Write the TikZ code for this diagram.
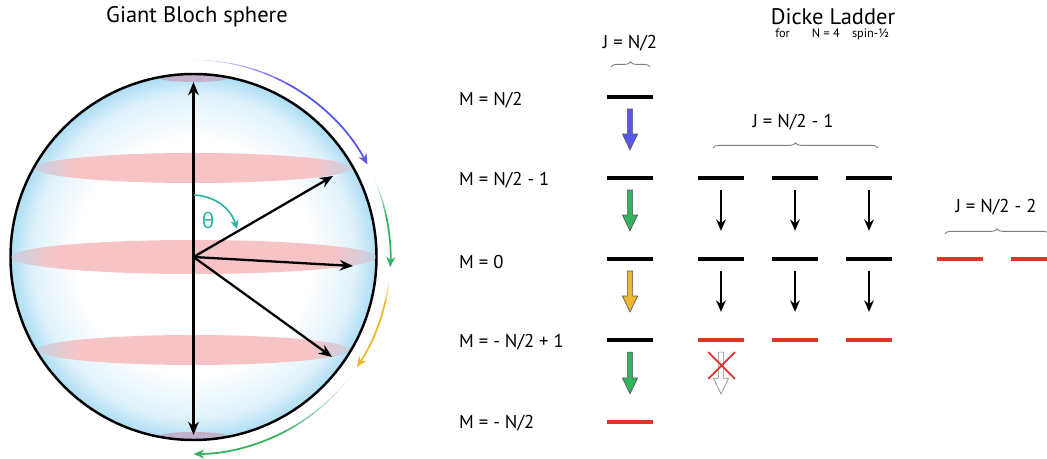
\documentclass[tikz,border=0pt]{standalone}
\usepackage{fontspec}
\setmainfont{PT Sans}
\newfontfamily\greekfont{Open Sans}
\usetikzlibrary{arrows.meta,calc,decorations.pathreplacing,shapes.misc}

\definecolor{rimblue}{RGB}{165,218,243}
\definecolor{bandpink}{RGB}{246,196,198}
\definecolor{capmauve}{RGB}{196,165,190}
\definecolor{arcblue}{RGB}{88,86,240}
\definecolor{arcgreen}{RGB}{52,178,96}
\definecolor{arcyellow}{RGB}{236,184,48}
\definecolor{thetateal}{RGB}{38,178,158}
\definecolor{lvlred}{RGB}{224,52,40}
\definecolor{bracegray}{RGB}{125,125,125}

% white core, blue rim
\pgfdeclareradialshading{sphereshade}{\pgfpoint{0bp}{0bp}}{color(0bp)=(white); color(16bp)=(white); color(22bp)=(rimblue!35); color(25bp)=(rimblue!90); color(50bp)=(rimblue!90)}
% latitude bands: pink, blue at the ends
\pgfdeclarehorizontalshading{bandshade}{100bp}{color(0bp)=(rimblue); color(25bp)=(rimblue!60!bandpink); color(31bp)=(bandpink); color(69bp)=(bandpink); color(75bp)=(rimblue!60!bandpink); color(100bp)=(rimblue)}

\tikzset{
  lbl/.style={font=\fontsize{10.6}{12}\selectfont},
  heading/.style={font=\fontsize{12.8}{14}\selectfont},
  lvl/.style={rectangle, fill=black, inner sep=0pt, minimum width=0.92cm, minimum height=2pt},
  redlvl/.style={lvl, fill=lvlred},
  vec/.style={line width=1.3pt, -{Stealth[length=7.5pt,width=6pt]}},
  drop/.style={line width=1.1pt, -{Stealth[length=6.5pt,width=5.5pt]}, shorten <=0.2cm, shorten >=0.52cm},
  blockarrow/.style={fill=#1, draw=black!65, line width=0.4pt,
    to path={let \p1=(\tikztostart), \p2=(\tikztotarget) in
      (\x1-1.5pt,\y1) -- (\x1-1.5pt,\y2+9pt) -- (\x1-4.3pt,\y2+9pt) -- (\x2,\y2)
      -- (\x1+4.3pt,\y2+9pt) -- (\x1+1.5pt,\y2+9pt) -- (\x1+1.5pt,\y1) -- cycle}},
  brace/.style={bracegray, line width=0.5pt, decorate, decoration={brace, amplitude=3pt}}
}

\begin{document}
\begin{tikzpicture}[x=0.02cm, y=0.02cm]
  \useasboundingbox (0,0) rectangle (1047,459);

  % ---- Bloch sphere ----
  \coordinate (c) at (193.5,202);
  \shade[shading=sphereshade] (c) circle[radius=183];
  \shade[shading=bandshade] (193.5,291) ellipse[x radius=158, y radius=15];
  \shade[shading=bandshade] (193.5,202) ellipse[x radius=183, y radius=17];
  \shade[shading=bandshade] (193.5,109) ellipse[x radius=156, y radius=15];
  \fill[capmauve, opacity=.8] (193.5,381) ellipse[x radius=34, y radius=4];
  \fill[capmauve, opacity=.8] (193.5,23) ellipse[x radius=34, y radius=4];
  \draw[line width=1.4pt] (c) circle[radius=183];

  \node[heading] (bloch) at (197,442) {Giant Bloch sphere};

  \coordinate (np) at (193.5,377);
  \coordinate (sp) at (193.5,24);
  \coordinate (v1) at (333,283);
  \coordinate (v2) at (353,193);
  \coordinate (v3) at (332,102);
  \foreach \t in {np,sp,v1,v2,v3}
    \draw[vec] (c) -- (\t);

  % polar angle
  \coordinate (t0) at (194,264);
  \coordinate (t1) at (237,230);
  \draw[thetateal, line width=0.9pt, -{Stealth[length=5pt,width=4.5pt]}] (t0) to[bend left=35] (t1);
  \node[text=thetateal, font=\greekfont\fontsize{12}{14}\selectfont] (theta) at (208,239) {θ};

  % rotation arcs round the sphere, faded at the start
  \foreach \col/\from/\mid/\to in {arcblue/90/62/28, arcgreen/24/12/-3, arcyellow/-6/-13/-34, arcgreen/-37/-62/-90}{
    \foreach \k in {0,...,7}{
      \pgfmathsetmacro\a{\from+(\mid-\from)*\k/8}
      \pgfmathsetmacro\b{\from+(\mid-\from)*(\k+1)/8}
      \pgfmathtruncatemacro\p{10+11*\k}
      \pgfmathsetmacro\w{0.3+0.09*\k}
      \draw[\col!\p!white, line width=\w pt] ($(c)+(\a:197)$) arc[start angle=\a, end angle=\b, radius=197];
    }
    \draw[\col, line width=1pt, -{Stealth[length=6pt,width=5pt]}] ($(c)+(\mid:197)$) arc[start angle=\mid, end angle=\to, radius=197];
  }

  % ---- Dicke ladder ----
  \node[heading, anchor=base, inner sep=0.5pt] (dicke) at (833,434) {Dicke Ladder};
  \node[font=\fontsize{7}{8}\selectfont, anchor=base, inner sep=0.5pt] (spec) at (832,421) {for\hspace{1.8em}N = 4\quad spin-½};

  \node[lbl, anchor=west] (m0) at (453,359) {M = N/2};
  \node[lbl, anchor=west] (m1) at (453,279) {M = N/2 - 1};
  \node[lbl, anchor=west] (m2) at (453,197) {M = 0};
  \node[lbl, anchor=west] (m3) at (453,117) {M = - N/2 + 1};
  \node[lbl, anchor=west] (m4) at (453,36) {M = - N/2};

  \node[lbl] (j0) at (630,416) {J = N/2};
  \node[lbl] (j1) at (793,337) {J = N/2 - 1};
  \node[lbl] (j2) at (996,252) {J = N/2 - 2};
  \draw[brace] (611,392) -- (650,392);
  \draw[brace] (713,311) -- (878,311);
  \draw[brace] (945,225) -- (1049,225);

  % J = N/2
  \node[lvl] (a0) at (630,362) {};
  \node[lvl] (a1) at (630,281) {};
  \node[lvl] (a2) at (630,200) {};
  \node[lvl] (a3) at (630,119) {};
  \node[redlvl] (a4) at (630,37) {};
  \draw[blockarrow=arcblue] ([yshift=-0.2cm]a0.south) to ([yshift=0.52cm]a1.north);
  \draw[blockarrow=arcgreen] ([yshift=-0.2cm]a1.south) to ([yshift=0.52cm]a2.north);
  \draw[blockarrow=arcyellow] ([yshift=-0.2cm]a2.south) to ([yshift=0.52cm]a3.north);
  \draw[blockarrow=arcgreen] ([yshift=-0.2cm]a3.south) to ([yshift=0.52cm]a4.north);

  % J = N/2 - 1
  \foreach \n/\x in {b/721, c/795, d/869}{
    \node[lvl] (\n1) at (\x,281) {};
    \node[lvl] (\n2) at (\x,200) {};
    \node[redlvl] (\n3) at (\x,119) {};
    \draw[drop] (\n1) -- (\n2);
    \draw[drop] (\n2) -- (\n3);
  }
  \coordinate (nofall) at (721,65);
  \draw[blockarrow=white, draw=black!45] ([yshift=-0.2cm]b3.south) to (nofall);
  \node[cross out, draw=lvlred, line width=1pt, minimum size=0.5cm, inner sep=0pt] (block) at (721.5,93.5) {};

  % J = N/2 - 2
  \node[redlvl] (e2) at (960,200) {};
  \node[redlvl] (f2) at (1034,200) {};
\end{tikzpicture}
\end{document}
